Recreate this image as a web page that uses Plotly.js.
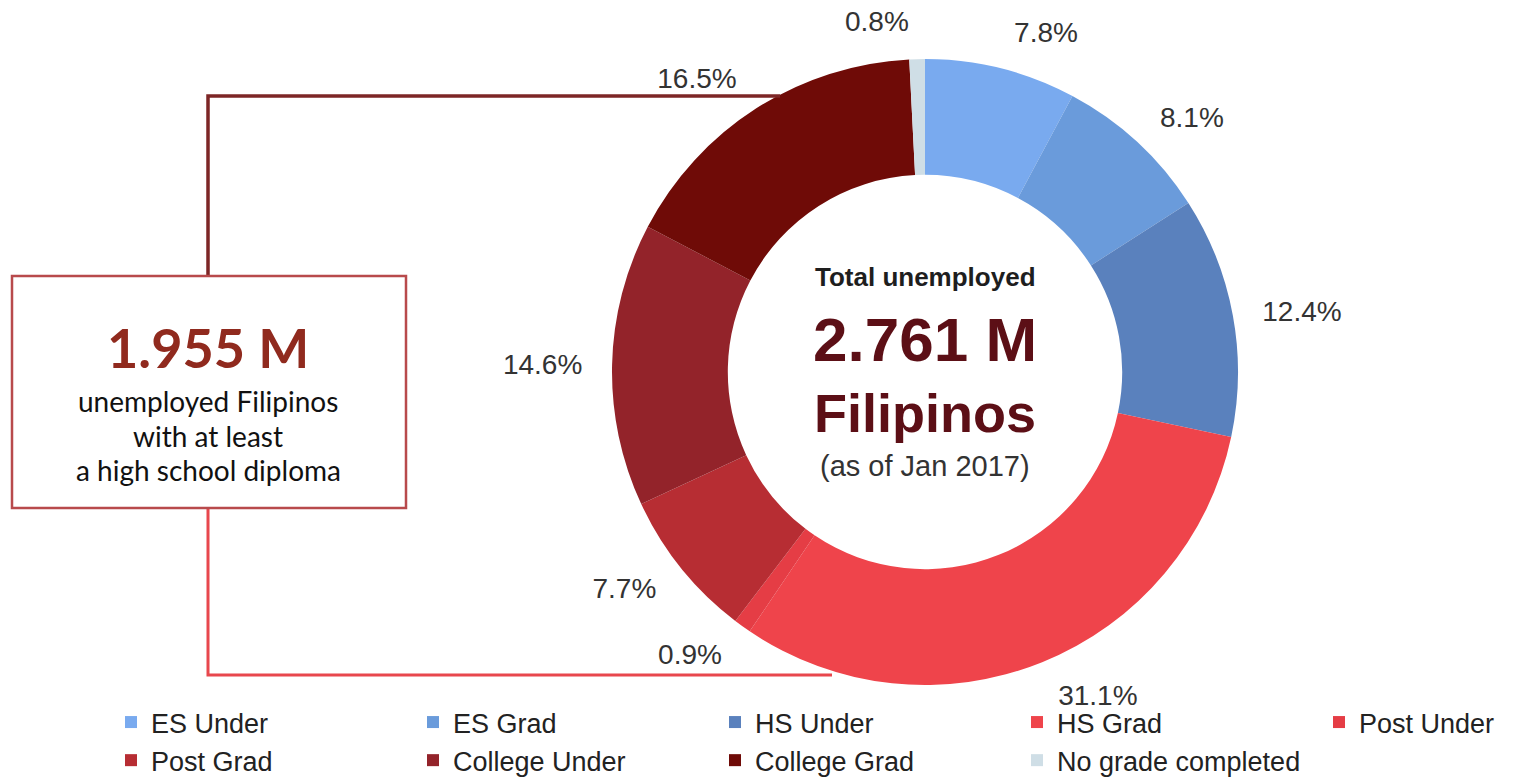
<!DOCTYPE html>
<html>
<head>
<meta charset="utf-8">
<script src="https://cdn.plot.ly/plotly-3.0.1.min.js"></script>
<style>
html,body{margin:0;padding:0;background:#fff;}
#chart{width:1517px;height:781px;}
</style>
</head>
<body>
<div id="chart"></div>
<script>
// ---- data ----
const categories = ['ES Under','ES Grad','HS Under','HS Grad','Post Under','Post Grad','College Under','College Grad','No grade completed'];
const shares = [7.8, 8.1, 12.4, 31.1, 0.9, 7.7, 14.6, 16.5, 0.8];
const sliceColors = ['#79aaef','#6a9bdb','#5a81bd','#ef444b','#e53d45','#b72d33','#93232a','#6f0b07','#cfdee6'];
const centerTitle = 'Total unemployed';
const centerTotal = '2.761 M';
const centerSub = 'Filipinos';
const centerDate = '(as of Jan 2017)';
const boxValue = '1.955 M';
const boxLines = ['unemployed Filipinos','with at least','a high school diploma'];

// ---- layout helpers (pixel -> paper) ----
const W = 1517, H = 781;
const px = x => x / W;
const py = y => 1 - y / H;
const cx = 925, cy = 372, R = 313, RL = 335;

const donut = {
  type: 'pie',
  labels: categories,
  values: shares,
  sort: false,
  direction: 'clockwise',
  rotation: 0,
  hole: 0.63,
  marker: {colors: sliceColors, line: {width: 0}},
  textinfo: 'none',
  hoverinfo: 'label+value',
  domain: {x: [px(cx - R), px(cx + R)], y: [py(cy + R), py(cy - R)]},
  showlegend: true
};

// invisible ring that only carries the outside percentage labels
const labelRing = {
  type: 'pie',
  labels: categories,
  values: shares,
  sort: false,
  direction: 'clockwise',
  rotation: 0,
  hole: 0.97,
  marker: {colors: categories.map(() => 'rgba(0,0,0,0)'), line: {width: 0}},
  textposition: 'outside',
  texttemplate: '%{value:.1f}%',
  outsidetextfont: {family: 'Liberation Sans, Arial, sans-serif', size: 28, color: '#333333'},
  hoverinfo: 'skip',
  domain: {x: [px(cx - RL), px(cx + RL)], y: [py(cy + RL), py(cy - RL)]},
  showlegend: false,
  automargin: false
};

const sans = 'Liberation Sans, Arial, sans-serif';
const humanist = 'Lato, Open Sans, sans-serif';

const annotations = [
  {x: px(cx), y: py(277), text: centerTitle, font: {family: sans, size: 26, color: '#1e1e1e', weight: 700}},
  {x: px(cx), y: py(339), text: centerTotal, font: {family: sans, size: 62, color: '#5c0f16', weight: 700}},
  {x: px(cx), y: py(413), text: centerSub, font: {family: sans, size: 54, color: '#5c0f16', weight: 700}},
  {x: px(cx), y: py(466), text: centerDate, font: {family: sans, size: 29, color: '#333333'}},
  {x: px(208), y: py(348), text: boxValue, font: {family: humanist, size: 54, color: '#902a1e', weight: 700}},
  {x: px(208), y: py(401), text: boxLines[0], font: {family: humanist, size: 28, color: '#111111'}},
  {x: px(208), y: py(436), text: boxLines[1], font: {family: humanist, size: 28, color: '#111111'}},
  {x: px(208), y: py(470), text: boxLines[2], font: {family: humanist, size: 28, color: '#111111'}}
].map(a => Object.assign({xref: 'paper', yref: 'paper', showarrow: false, xanchor: 'center', yanchor: 'middle'}, a));

const shapes = [
  // upper connector (dark)
  {type: 'path', xref: 'paper', yref: 'paper',
   path: 'M' + px(208) + ',' + py(276) + 'L' + px(208) + ',' + py(96) + 'L' + px(780) + ',' + py(96),
   line: {color: '#7d2626', width: 3.5}},
  // lower connector (bright red)
  {type: 'path', xref: 'paper', yref: 'paper',
   path: 'M' + px(208) + ',' + py(508) + 'L' + px(208) + ',' + py(675) + 'L' + px(832) + ',' + py(675),
   line: {color: '#e8474d', width: 3}},
  // box
  {type: 'rect', xref: 'paper', yref: 'paper', x0: px(12), x1: px(406), y0: py(508), y1: py(276),
   line: {color: '#b84a4c', width: 2.5}, fillcolor: '#ffffff'}
];

const layout = {
  width: W, height: H,
  margin: {l: 0, r: 0, t: 0, b: 0, autoexpand: false},
  paper_bgcolor: '#ffffff',
  plot_bgcolor: '#ffffff',
  showlegend: true,
  legend: {
    orientation: 'h',
    x: px(111), xanchor: 'left',
    y: py(698), yanchor: 'top',
    entrywidth: 257, entrywidthmode: 'pixels',
    font: {family: sans, size: 27, color: '#222222'},
    bgcolor: 'rgba(0,0,0,0)', borderwidth: 0,
    traceorder: 'normal'
  },
  annotations: annotations,
  shapes: shapes
};

Plotly.newPlot('chart', [donut, labelRing], layout, {displayModeBar: false, staticPlot: true});
</script>
</body>
</html>
